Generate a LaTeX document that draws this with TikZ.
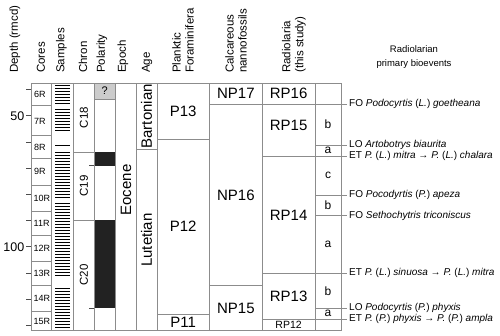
\documentclass[tikz,border=0pt]{standalone}
\usepackage{fontspec}
\setmainfont{Liberation Sans}
\definecolor{lg}{HTML}{8C8C8C}
\definecolor{pblack}{HTML}{222222}
\definecolor{qgray}{HTML}{CCCCCC}
\begin{document}
\begin{tikzpicture}[x=1pt,y=-1pt,
  grid/.style={draw=lg, line width=0.8pt},
  tickl/.style={draw=black!70, line width=0.8pt},
  sline/.style={draw=black, line width=1pt},
  hdr/.style={font=\fontsize{11.5}{13}\selectfont, rotate=90, anchor=west, inner sep=0pt, align=left},
  zone/.style={font=\fontsize{15}{17}\selectfont, inner sep=0pt},
  rzone/.style={zone, rotate=90},
  small/.style={font=\fontsize{10.5}{12}\selectfont, inner sep=0pt},
  chr/.style={font=\fontsize{11.5}{13}\selectfont, rotate=90, inner sep=0pt},
  sub/.style={font=\fontsize{12}{14}\selectfont, inner sep=0pt},
  core/.style={font=\fontsize{9}{10}\selectfont, anchor=west, inner sep=0pt},
  dlab/.style={font=\fontsize{12.5}{14}\selectfont, anchor=east, inner sep=0pt},
  ev/.style={font=\fontsize{10}{12}\selectfont, anchor=west, inner ysep=0pt, inner xsep=2pt},
]
\useasboundingbox (0,0) rectangle (500,335);

% headers
\node[hdr] (hd) at (15,73) {Depth (rmcd)};
\node[hdr] (hc) at (41,73) {Cores};
\node[hdr] (hs) at (61.5,73) {Samples};
\node[hdr] (hch) at (83,73) {Chron};
\node[hdr] (hp) at (102,73) {Polarity};
\node[hdr] (he) at (123,73) {Epoch};
\node[hdr] (ha) at (147,73) {Age};
\node[hdr] (hf) at (183,73) {Planktic\\Foraminifera};
\node[hdr] (hn) at (236,73) {Calcareous\\nannofossils};
\node[hdr] (hr) at (294,73) {Radiolaria\\(this study)};
\node[font=\fontsize{9.5}{14.5}\selectfont, align=center, inner sep=0pt] (hb) at (414,57) {Radiolarian\\primary bioevents};

% polarity fills
\fill[qgray] (94.3,83) rectangle (115,99);
\draw[grid] (94.3,99) -- (115,99);
\node[font=\fontsize{11}{12}\selectfont, inner sep=0pt] (q) at (104.6,91) {?};
\fill[pblack] (94.3,152.3) rectangle (115,165.7);
\fill[pblack] (94.3,220.3) rectangle (115,308.3);

% samples
\foreach \y in {85,88,...,103, 109,112,...,130, 145, 152,155,...,194, 197, 203,206,...,275, 288,291,...,327}
  \draw[sline] (55,\y) -- (70,\y);

% frame and columns
\draw[grid] (31,83) rectangle (341,330);
\foreach \x in {51.7,73,94.3,115,136,157,209.5,262.3,315}
  \draw[grid] (\x,83) -- (\x,330);

% depth ticks
\foreach \d in {40,50,...,130}
  \draw[tickl] (26,{115.7+(\d-50)*2.62}) -- (31,{115.7+(\d-50)*2.62});
\node[dlab] (d50) at (24.5,115.7) {50};
\node[dlab] (d100) at (24.5,246.7) {100};

% cores
\foreach \y in {105.7,135.7,158.3,185,211.7,235.7,261,285.7,311.7}
  \draw[grid] (31,\y) -- (51.7,\y);
\node[core] (c6) at (34,94.5) {6R};
\node[core] (c7) at (34,121) {7R};
\node[core] (c8) at (34,147) {8R};
\node[core] (c9) at (34,171.5) {9R};
\node[core] (c10) at (33.5,198) {10R};
\node[core] (c11) at (33.5,223.5) {11R};
\node[core] (c12) at (33.5,248) {12R};
\node[core] (c13) at (33.5,273) {13R};
\node[core] (c14) at (33.5,298.7) {14R};
\node[core] (c15) at (33.5,321) {15R};

% chron
\draw[grid] (73,152.3) -- (94.3,152.3);
\draw[grid] (73,220.3) -- (94.3,220.3);
\draw[tickl] (89,165.7) -- (94.3,165.7);
\draw[tickl] (89,308.3) -- (94.3,308.3);
\node[chr] (ch18) at (84,117.5) {C18};
\node[chr] (ch19) at (84,186) {C19};
\node[chr] (ch20) at (84,275) {C20};

% epoch / age
\node[rzone] (eoc) at (126,190) {Eocene};
\draw[grid] (136,149.7) -- (157,149.7);
\node[rzone] (bart) at (146.5,116.3) {Bartonian};
\node[rzone] (lut) at (146.5,240) {Lutetian};

% foraminifera
\draw[grid] (157,139.3) -- (209.5,139.3);
\draw[grid] (157,314) -- (209.5,314);
\node[zone] (p13) at (183.2,111) {P13};
\node[zone] (p12) at (183.2,226.7) {P12};
\node[zone] (p11) at (183.2,322.5) {P11};

% nannofossils
\draw[grid] (209.5,104.3) -- (262.3,104.3);
\draw[grid] (209.5,285.7) -- (262.3,285.7);
\node[zone] (np17) at (235.9,93.8) {NP17};
\node[zone] (np16) at (235.9,195) {NP16};
\node[zone] (np15) at (235.9,308) {NP15};

% radiolaria zones
\node[zone] (rp16) at (288.6,93.8) {RP16};
\node[zone] (rp15) at (288.6,125) {RP15};
\node[zone] (rp14) at (288.6,215) {RP14};
\node[zone] (rp13) at (288.6,296) {RP13};
\node[small] (rp12) at (288.6,324.5) {RP12};

% subzones
\node[sub] (s15b) at (328,124.6) {b};
\node[sub] (s15a) at (328,150.6) {a};
\node[sub] (s14c) at (328,175.6) {c};
\node[sub] (s14b) at (328,205.3) {b};
\node[sub] (s14a) at (328,244.5) {a};
\node[sub] (s13b) at (328,290.8) {b};
\node[sub] (s13a) at (328,313.6) {a};

% bioevents
\node[ev] (e1) at (347,104.3) {FO \textit{Podocyrtis} (\textit{L.}) \textit{goetheana}};
\node[ev] (e2) at (347,145) {LO \textit{Artobotrys biaurita}};
\node[ev] (e3) at (347,156.3) {ET \textit{P.} (\textit{L.}) \textit{mitra} → \textit{P.} (\textit{L.}) \textit{chalara}};
\node[ev] (e4) at (347,195) {FO \textit{Pocodyrtis} (\textit{P.}) \textit{apeza}};
\node[ev] (e5) at (347,215.7) {FO \textit{Sethochytris triconiscus}};
\node[ev] (e6) at (347,273.3) {ET \textit{P.} (\textit{L.}) \textit{sinuosa} → \textit{P.} (\textit{L.}) \textit{mitra}};
\node[ev] (e7) at (347,308.3) {LO \textit{Podocyrtis} (\textit{P.}) \textit{phyxis}};
\node[ev] (e8) at (347,319) {ET \textit{P.} (\textit{P.}) \textit{phyxis} → \textit{P.} (\textit{P.}) \textit{ampla}};

\draw[grid] (262.3,104.3) -- (e1.west);
\draw[grid] (315,145) -- (e2.west);
\draw[grid] (262.3,156.3) -- (e3.west);
\draw[grid] (315,195) -- (e4.west);
\draw[grid] (315,215.7) -- (e5.west);
\draw[grid] (262.3,273.3) -- (e6.west);
\draw[grid] (315,308.3) -- (e7.west);
\draw[grid] (262.3,319) -- (e8.west);
\end{tikzpicture}
\end{document}
